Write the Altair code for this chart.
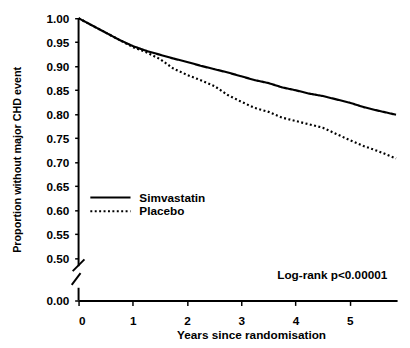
import altair as alt
import pandas as pd

# Kaplan-Meier readings (years since randomisation, proportion without major CHD event)
years = [0, 0.25, 0.5, 0.75, 1.0, 1.25, 1.5, 1.75, 2.0, 2.25, 2.5, 2.75, 3.0,
         3.25, 3.5, 3.75, 4.0, 4.25, 4.5, 4.75, 5.0, 5.25, 5.5, 5.85]
simvastatin = [1.000, 0.985, 0.970, 0.955, 0.942, 0.932, 0.924, 0.916, 0.909,
               0.901, 0.894, 0.887, 0.879, 0.871, 0.865, 0.856, 0.850, 0.843,
               0.838, 0.831, 0.824, 0.815, 0.808, 0.799]
placebo = [1.000, 0.985, 0.970, 0.955, 0.940, 0.929, 0.915, 0.895, 0.882,
           0.871, 0.859, 0.840, 0.826, 0.813, 0.805, 0.793, 0.786, 0.779,
           0.772, 0.759, 0.746, 0.734, 0.724, 0.708]

series_names = ["Simvastatin", "Placebo"]
x_ticks = [0, 1, 2, 3, 4, 5]
y_ticks = [0.00, 0.50, 0.55, 0.60, 0.65, 0.70, 0.75, 0.80, 0.85, 0.90, 0.95, 1.00]
annotation = "Log-rank p<0.00001"

# broken axis: 0.00 is drawn just below the 0.50 tick
BREAK_POS = 0.412
y_tick_pos = [BREAK_POS if v == 0 else v for v in y_ticks]

rows = []
for s, vals in zip(series_names, [simvastatin, placebo]):
    for x, y in zip(years, vals):
        rows.append({"years": x, "prop": y, "group": s})
df = pd.DataFrame(rows)

FONT = "Liberation Sans"

xscale = alt.Scale(domain=[0, 5.87], nice=False, zero=False)
yscale = alt.Scale(domain=[BREAK_POS, 1.0], nice=False, zero=False)

lines = alt.Chart(df).mark_line(color="black", strokeWidth=2.2).encode(
    x=alt.X("years:Q", scale=xscale,
            axis=alt.Axis(values=x_ticks, format="d", title="Years since randomisation",
                          titleX=176, titlePadding=4, labelPadding=10)),
    y=alt.Y("prop:Q", scale=yscale,
            axis=alt.Axis(values=y_tick_pos, domain=False,
                          labelExpr="datum.value < 0.45 ? '0.00' : format(datum.value, '.2f')",
                          title="Proportion without major CHD event", titlePadding=24,
                          tickSize=4, labelPadding=6)),
    strokeDash=alt.StrokeDash("group:N",
                              scale=alt.Scale(domain=series_names, range=[[1, 0], [2, 2.5]]),
                              legend=None),
    detail="group:N",
)

# y axis drawn in two pieces with break marks
axis_top = alt.Chart().mark_rule(color="black", strokeWidth=2).encode(
    x=alt.value(0), y=alt.value(0), y2=alt.value(253))
axis_bot = alt.Chart().mark_rule(color="black", strokeWidth=2).encode(
    x=alt.value(0), y=alt.value(275), y2=alt.value(288))
slash1 = alt.Chart().mark_rule(color="black", strokeWidth=2).encode(
    x=alt.value(-6), x2=alt.value(6), y=alt.value(258), y2=alt.value(246))
slash2 = alt.Chart().mark_rule(color="black", strokeWidth=2).encode(
    x=alt.value(-7), x2=alt.value(2), y=alt.value(272), y2=alt.value(260))

# legend
leg_sim = alt.Chart().mark_rule(color="black", strokeWidth=2).encode(
    x=alt.value(12), x2=alt.value(53), y=alt.value(183))
leg_pla = alt.Chart().mark_rule(color="black", strokeWidth=2, strokeDash=[2, 2.5]).encode(
    x=alt.value(12), x2=alt.value(53), y=alt.value(197))
leg_txt1 = alt.Chart().mark_text(align="left", baseline="middle", font=FONT,
                                 fontWeight="bold", fontSize=12, text=series_names[0]).encode(
    x=alt.value(62), y=alt.value(183))
leg_txt2 = alt.Chart().mark_text(align="left", baseline="middle", font=FONT,
                                 fontWeight="bold", fontSize=12, text=series_names[1]).encode(
    x=alt.value(62), y=alt.value(197))
note = alt.Chart().mark_text(align="right", baseline="middle", font=FONT,
                             fontWeight="bold", fontSize=12, text=annotation).encode(
    x=alt.value(315), y=alt.value(262))

chart = alt.layer(
    lines, axis_top, axis_bot, slash1, slash2,
    leg_sim, leg_pla, leg_txt1, leg_txt2, note
).properties(
    width=325, height=288,
    autosize=alt.AutoSizeParams(type="none"),
    padding={"left": 72, "top": 7, "right": 5, "bottom": 45},
).configure_view(stroke=None).configure_axis(
    grid=False,
    domainColor="black", domainWidth=2,
    tickColor="black", tickWidth=1.5,
    labelFont=FONT, labelFontWeight="bold", labelFontSize=12, labelColor="black",
    titleFont=FONT, titleFontWeight="bold", titleFontSize=11, titleColor="black",
).configure_axisX(tickSize=5, titleFontSize=12)

chart.save("out.html", embed_options={"renderer": "svg", "actions": False})
